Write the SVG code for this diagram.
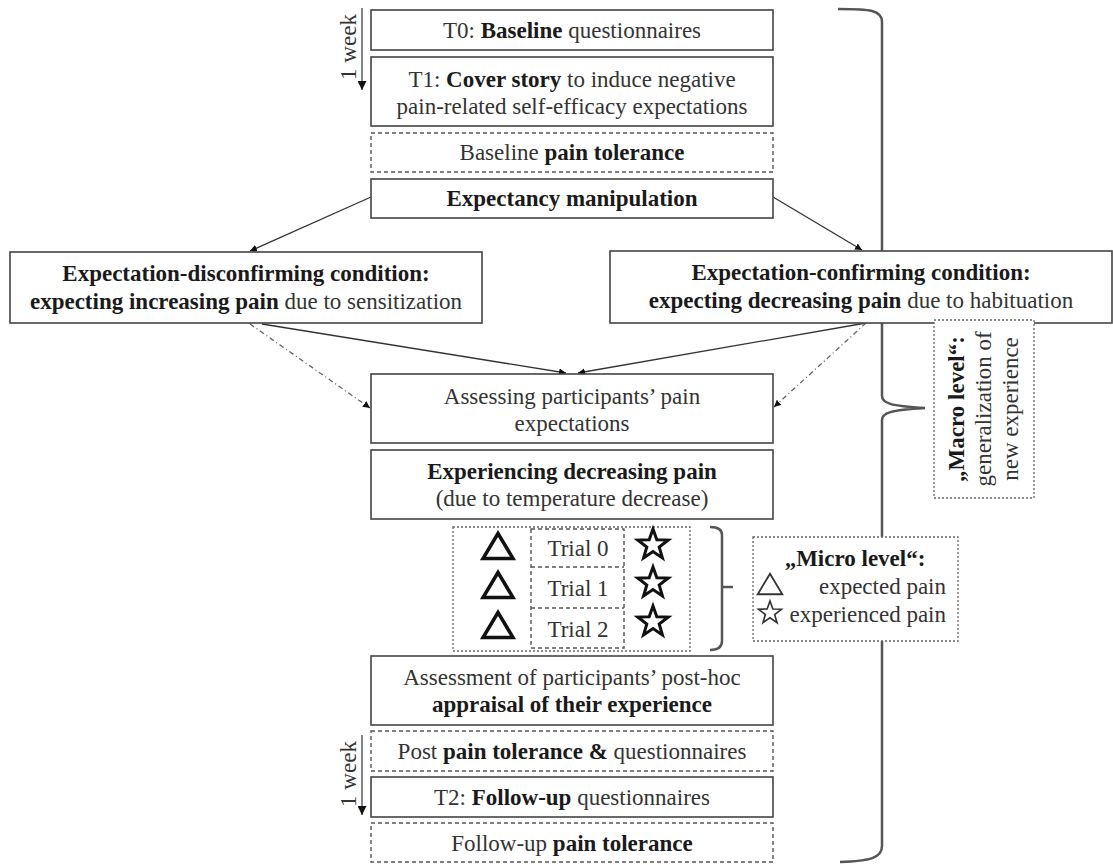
<svg xmlns="http://www.w3.org/2000/svg" width="1113" height="865" viewBox="0 0 1113 865">
<style>
text{font-family:"Liberation Serif","Times New Roman",serif;font-size:23px;fill:#333}
.c{text-anchor:middle}
.b{font-weight:bold;fill:#1a1a1a}
.box{fill:#fff;stroke:#444;stroke-width:1.6}
.dbox{fill:#fff;stroke:#555;stroke-width:1.4;stroke-dasharray:4 3}
.dot{fill:#fff;stroke:#666;stroke-width:1.3;stroke-dasharray:2 2}
.con{fill:none;stroke:#333;stroke-width:1.3}
.dcon{fill:none;stroke:#666;stroke-width:1.3;stroke-dasharray:5 3 1 3}
.tri{fill:none;stroke:#111;stroke-width:3.5;stroke-linejoin:miter}
.star{fill:none;stroke:#111;stroke-width:3;stroke-linejoin:miter}
.brace{fill:none;stroke:#555;stroke-width:2.5}
</style>
<defs>
<marker id="ah" viewBox="0 0 10 10" refX="10" refY="5" markerWidth="7" markerHeight="7" orient="auto" markerUnits="userSpaceOnUse">
<path d="M0,0 L10,5 L0,10 z" fill="#111"/>
</marker>
<marker id="ahw" viewBox="0 0 10 10" refX="10" refY="5" markerWidth="9" markerHeight="9" orient="auto" markerUnits="userSpaceOnUse">
<path d="M0,0 L10,5 L0,10 z" fill="#111"/>
</marker>
<path id="starS" d="M0,-16 L3.82,-5.26 L15.22,-4.94 L6.18,2.01 L9.4,12.94 L0,6.5 L-9.4,12.94 L-6.18,2.01 L-15.22,-4.94 L-3.82,-5.26 Z"/>
<path id="triS" d="M0,-12.5 L15,12.5 L-15,12.5 Z"/>
</defs>

<g id="macro-brace">
<path class="brace" d="M838,9 C870,9 882,10 882,22 L882,396 C882,403 890,406 925,408 C890,410 882,413 882,420 L882,846 C882,858 870,861 840,862"/>
</g>

<g id="connectors">
<line class="con" x1="371" y1="197" x2="250" y2="251" marker-end="url(#ah)"/>
<line class="con" x1="773" y1="197" x2="862" y2="250" marker-end="url(#ah)"/>
<line class="con" x1="262" y1="324" x2="566" y2="373" marker-end="url(#ah)"/>
<line class="con" x1="866" y1="323" x2="578" y2="373" marker-end="url(#ah)"/>
<line class="dcon" x1="250" y1="324" x2="370" y2="408" marker-end="url(#ah)"/>
<line class="dcon" x1="866" y1="323" x2="774" y2="407" marker-end="url(#ah)"/>
</g>

<g id="week1">
<line x1="362" y1="8" x2="362" y2="90" stroke="#666" stroke-width="1.6" marker-end="url(#ahw)"/>
<text class="c" transform="translate(349,47) rotate(-90)" dy="7">1 week</text>
</g>
<g id="week2">
<line x1="362" y1="735" x2="362" y2="815" stroke="#666" stroke-width="1.6" marker-end="url(#ahw)"/>
<text class="c" transform="translate(349,774) rotate(-90)" dy="7">1 week</text>
</g>

<g id="t0">
<rect class="box" x="371" y="10" width="402" height="40"/>
<text class="c" x="572" y="38">T0: <tspan class="b">Baseline</tspan> questionnaires</text>
</g>
<g id="t1">
<rect class="box" x="371" y="57" width="402" height="69"/>
<text class="c" x="572" y="87">T1: <tspan class="b">Cover story</tspan> to induce negative</text>
<text class="c" x="572" y="114">pain-related self-efficacy expectations</text>
</g>
<g id="baseline-tolerance">
<rect class="dbox" x="371" y="133" width="402" height="39"/>
<text class="c" x="572" y="160">Baseline <tspan class="b">pain tolerance</tspan></text>
</g>
<g id="manipulation">
<rect class="box" x="371" y="179" width="402" height="39"/>
<text class="c b" x="572" y="206">Expectancy manipulation</text>
</g>
<g id="cond-disconfirm">
<rect class="box" x="10" y="252" width="472" height="71"/>
<text class="c b" x="246" y="281">Expectation-disconfirming condition:</text>
<text class="c" x="246" y="309"><tspan class="b">expecting increasing pain</tspan> due to sensitization</text>
</g>
<g id="cond-confirm">
<rect class="box" x="610" y="251" width="502" height="72"/>
<text class="c b" x="861" y="280">Expectation-confirming condition:</text>
<text class="c" x="861" y="308"><tspan class="b">expecting decreasing pain</tspan> due to habituation</text>
</g>
<g id="assessing">
<rect class="box" x="371" y="374" width="402" height="69"/>
<text class="c" x="572" y="404">Assessing participants’ pain</text>
<text class="c" x="572" y="431">expectations</text>
</g>
<g id="experiencing">
<rect class="box" x="371" y="450" width="402" height="69"/>
<text class="c b" x="572" y="479">Experiencing decreasing pain</text>
<text class="c" x="572" y="506">(due to temperature decrease)</text>
</g>
<g id="trials">
<rect class="dot" x="453" y="527" width="237" height="124"/>
<rect class="dbox" x="531" y="529" width="93" height="119"/>
<line x1="531" y1="567" x2="624" y2="567" stroke="#555" stroke-width="1.4" stroke-dasharray="4 3"/>
<line x1="531" y1="608" x2="624" y2="608" stroke="#555" stroke-width="1.4" stroke-dasharray="4 3"/>
<text class="c" x="578" y="556">Trial 0</text>
<text class="c" x="578" y="596">Trial 1</text>
<text class="c" x="578" y="637">Trial 2</text>
<use href="#triS" class="tri" x="498" y="546"/>
<use href="#triS" class="tri" x="498" y="585"/>
<use href="#triS" class="tri" x="498" y="625"/>
<use href="#starS" class="star" x="653" y="545"/>
<use href="#starS" class="star" x="653" y="583"/>
<use href="#starS" class="star" x="653" y="622"/>
</g>
<g id="micro-bracket">
<path class="brace" stroke-width="2" d="M710,527 Q722,527 722,535 L722,641 Q722,650 710,650 M722,587 L733,587"/>
</g>
<g id="micro-level">
<rect class="dot" x="753" y="537" width="205" height="104"/>
<text class="c b" x="855" y="566">„Micro level“:</text>
<use href="#triS" transform="translate(770,584) scale(0.82)" fill="none" stroke="#333" stroke-width="2.2"/>
<text x="946" y="594" style="text-anchor:end">expected pain</text>
<use href="#starS" transform="translate(770,613) scale(0.75)" fill="none" stroke="#333" stroke-width="2.2"/>
<text x="946" y="622" style="text-anchor:end">experienced pain</text>
</g>
<g id="assessment">
<rect class="box" x="371" y="656" width="402" height="69"/>
<text class="c" x="572" y="685">Assessment of participants’ post-hoc</text>
<text class="c b" x="572" y="712">appraisal of their experience</text>
</g>
<g id="post-tolerance">
<rect class="dbox" x="371" y="731" width="402" height="40"/>
<text class="c" x="572" y="759">Post <tspan class="b">pain tolerance &amp;</tspan> questionnaires</text>
</g>
<g id="t2">
<rect class="box" x="371" y="777" width="402" height="40"/>
<text class="c" x="572" y="805">T2: <tspan class="b">Follow-up</tspan> questionnaires</text>
</g>
<g id="followup-tolerance">
<rect class="dbox" x="371" y="823" width="402" height="39"/>
<text class="c" x="572" y="851">Follow-up <tspan class="b">pain tolerance</tspan></text>
</g>
<g id="macro-level">
<rect class="dot" x="934" y="320" width="100" height="178"/>
<text class="c b" transform="translate(964,409) rotate(-90)">„Macro level“:</text>
<text class="c" transform="translate(991,409) rotate(-90)">generalization of</text>
<text class="c" transform="translate(1018,409) rotate(-90)">new experience</text>
</g>
</svg>
